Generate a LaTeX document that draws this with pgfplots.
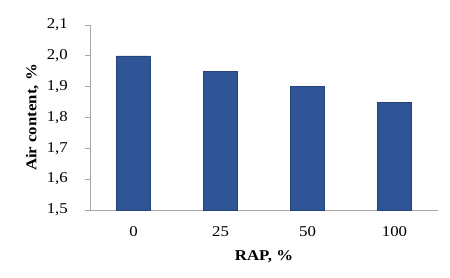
\documentclass[border=0pt]{standalone}
\usepackage{pgfplots}
\pgfplotsset{compat=1.18}
\usepackage{fontspec}
\setmainfont{Liberation Serif}[FakeStretch=1.12]
\definecolor{barblue}{HTML}{2F5597}
\definecolor{axgray}{HTML}{A6A6A6}
\begin{document}
\fontsize{15bp}{18bp}\selectfont
\begin{tikzpicture}
\useasboundingbox (-90bp,-68bp) rectangle (360bp,210bp);
\begin{axis}[
  at={(0,0)}, anchor=south west,
  scale only axis, width=348bp, height=185bp,
  xmin=-0.5, xmax=3.5, ymin=1.5, ymax=2.1,
  axis x line*=bottom, axis y line*=left,
  axis line style={axgray, line width=0.8pt},
  xtick={0,1,2,3}, xticklabels={0,25,50,100},
  extra x ticks={0.5,1.5,2.5,3.5}, extra x tick labels={},
  extra x tick style={major tick length=4bp, tick style={axgray}, tick align=outside},
  x tick style={draw=none},
  ytick={1.5,1.6,...,2.1},
  y tick style={axgray, line width=0.8pt},
  tick align=outside, major tick length=5bp,
  /pgf/number format/.cd, fixed, fixed zerofill, precision=1, use comma, assume math mode=true,
  /pgfplots/.cd,
  yticklabel style={xshift=-12bp},
  xticklabel style={yshift=-6bp},
  ticklabel style={font=\fontsize{15bp}{18bp}\selectfont},
  xlabel={\textbf{RAP, \%}}, ylabel={\textbf{Air content, \%}},
  label style={font=\fontsize{15bp}{18bp}\selectfont},
  xlabel style={yshift=5bp},
  ylabel style={yshift=-2bp},
  clip=false,
]
\addplot[ybar, bar width=34bp, fill=barblue, draw=barblue!80!black] coordinates {(0,2.0) (1,1.95) (2,1.9) (3,1.85)};
\end{axis}
\end{tikzpicture}
\end{document}
